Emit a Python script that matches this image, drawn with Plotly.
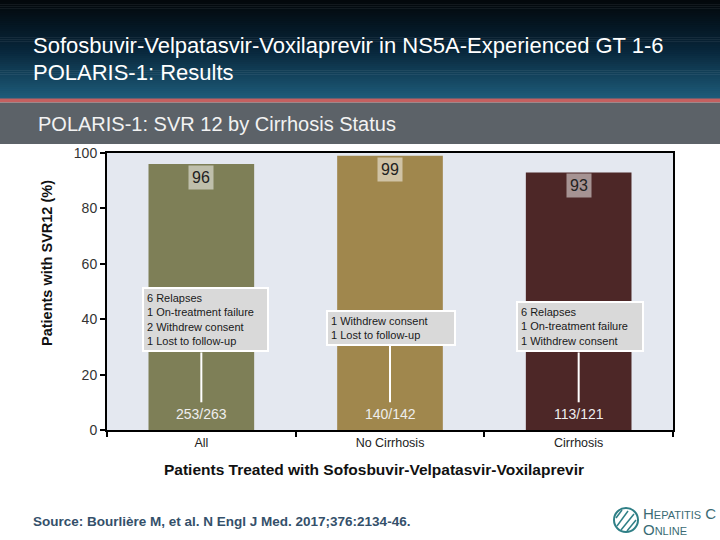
import plotly.graph_objects as go

# ---- data ----
categories = ["All", "No Cirrhosis", "Cirrhosis"]
svr_values = [96, 99, 93]
n_labels = ["253/263", "140/142", "113/121"]
failure_notes = [
    "6 Relapses<br>1 On-treatment failure<br>2 Withdrew consent<br>1 Lost to follow-up",
    "1 Withdrew consent<br>1 Lost to follow-up",
    "6 Relapses<br>1 On-treatment failure<br>1 Withdrew consent",
]
bar_colors = ["#7e7f57", "#a0874d", "#4d2727"]
y_ticks = [0, 20, 40, 60, 80, 100]

title_line1 = "Sofosbuvir-Velpatasvir-Voxilaprevir in NS5A-Experienced GT 1-6"
title_line2 = "POLARIS-1: Results"
subtitle = "POLARIS-1: SVR 12 by Cirrhosis Status"
y_title = "Patients with SVR12 (%)"
x_title = "Patients Treated with Sofosbuvir-Velpatasvir-Voxilaprevir"
source = "Source: Bourlière M, et al. N Engl J Med. 2017;376:2134-46."

# ---- layout geometry (pixels) ----
W, H = 720, 540
L, R, T, B = 107, 673, 153, 430
FONT = "Liberation Sans, Arial, sans-serif"


def px(X):
    return (X - L) / (R - L)


def py(Y):
    return (B - Y) / (B - T)


fig = go.Figure()
fig.add_trace(go.Bar(
    x=categories, y=svr_values,
    marker=dict(color=bar_colors, line=dict(width=0)),
    hoverinfo="skip",
))

shapes = []
# header gradient (decorative)
top_c = (3, 8, 12)
mid_c = (8, 38, 58)
bot_c = (30, 92, 122)
n_strips = 48
hdr_h = 99
for i in range(n_strips):
    y0 = hdr_h * i / n_strips
    y1 = hdr_h * (i + 1) / n_strips + 0.6
    f = i / (n_strips - 1)
    if f < 0.5:
        g = f / 0.5
        c = tuple(int(top_c[k] + (mid_c[k] - top_c[k]) * g) for k in range(3))
    else:
        g = (f - 0.5) / 0.5
        c = tuple(int(mid_c[k] + (bot_c[k] - mid_c[k]) * g) for k in range(3))
    shapes.append(dict(type="rect", xref="paper", yref="paper", layer="below",
                       x0=px(-2), x1=px(W + 2), y0=py(y1), y1=py(y0 - (2 if i == 0 else 0)),
                       fillcolor="rgb(%d,%d,%d)" % c, line=dict(width=0)))
# red line
shapes.append(dict(type="rect", xref="paper", yref="paper", layer="below",
                   x0=px(-2), x1=px(W + 2), y0=py(102.5), y1=py(98.5),
                   fillcolor="#c46060", line=dict(width=0)))
# grey band
shapes.append(dict(type="rect", xref="paper", yref="paper", layer="below",
                   x0=px(-2), x1=px(W + 2), y0=py(144), y1=py(102.5),
                   fillcolor="#5c6268", line=dict(width=0)))

# connector lines inside bars
conn_tops = [28, 30.5, 28]
for cat, yt in zip(categories, conn_tops):
    shapes.append(dict(type="line", xref="x", yref="y", layer="above",
                       x0=cat, x1=cat, y0=10, y1=yt,
                       line=dict(color="white", width=2)))

# logo circle
shapes.append(dict(type="circle", xref="paper", yref="paper", layer="above",
                   x0=px(614), x1=px(638), y0=py(532), y1=py(508),
                   line=dict(color="#2f7f86", width=2), fillcolor="white"))
for (a, b, c_, d) in [(617, 526, 628, 511), (621, 530, 634, 514), (616, 518, 622, 510), (627, 531, 636, 520)]:
    shapes.append(dict(type="line", xref="paper", yref="paper", layer="above",
                       x0=px(a), x1=px(c_), y0=py(b), y1=py(d),
                       line=dict(color="#2f7f86", width=1.5)))

annotations = []
# header texts
annotations.append(dict(xref="paper", yref="paper", x=px(31), y=py(45), xanchor="left", yanchor="middle",
                        text=title_line1, showarrow=False, font=dict(family=FONT, size=22, color="white")))
annotations.append(dict(xref="paper", yref="paper", x=px(31), y=py(72), xanchor="left", yanchor="middle",
                        text=title_line2, showarrow=False, font=dict(family=FONT, size=22, color="white")))
annotations.append(dict(xref="paper", yref="paper", x=px(36), y=py(124), xanchor="left", yanchor="middle",
                        text=subtitle, showarrow=False, font=dict(family=FONT, size=20, color="#f2f2f2")))

# value labels
for cat, v in zip(categories, svr_values):
    annotations.append(dict(xref="x", yref="y", x=cat, y=v, xanchor="center", yanchor="top",
                            text=str(v), showarrow=False, yshift=-1,
                            bgcolor="rgba(255,255,255,0.5)", borderpad=3,
                            font=dict(family=FONT, size=16, color="#222222")))
# failure note boxes
note_bottoms = [28, 30.5, 28]
note_shift = [4, 1, 1]
note_widths = [117, 120, 118]
for cat, txt, yb, xs, wd in zip(categories, failure_notes, note_bottoms, note_shift, note_widths):
    annotations.append(dict(xref="x", yref="y", x=cat, y=yb, xanchor="center", yanchor="bottom",
                            text=txt, showarrow=False, align="left", xshift=xs, width=wd,
                            bgcolor="#d9d9d9", bordercolor="white", borderwidth=2, borderpad=3,
                            font=dict(family=FONT, size=11, color="#1a1a1a")))
# n/N labels
for cat, lab in zip(categories, n_labels):
    annotations.append(dict(xref="x", yref="y", x=cat, y=5.8, xanchor="center", yanchor="middle",
                            text=lab, showarrow=False,
                            font=dict(family=FONT, size=14, color="#eeeeee")))

# axis titles
annotations.append(dict(xref="paper", yref="paper", x=px(374), y=py(469), xanchor="center", yanchor="middle",
                        text="<b>%s</b>" % x_title, showarrow=False,
                        font=dict(family=FONT, size=15.5, color="#111111")))
annotations.append(dict(xref="paper", yref="paper", x=px(47), y=py(263), xanchor="center", yanchor="middle",
                        text="<b>%s</b>" % y_title, showarrow=False, textangle=-90,
                        font=dict(family=FONT, size=14.5, color="#111111")))
# source
annotations.append(dict(xref="paper", yref="paper", x=px(31), y=py(521), xanchor="left", yanchor="middle",
                        text="<b>%s</b>" % source, showarrow=False,
                        font=dict(family=FONT, size=13.5, color="#34506a")))
# logo text
annotations.append(dict(xref="paper", yref="paper", x=px(641), y=py(513), xanchor="left", yanchor="middle",
                        text="H<span style='font-size:11px'>EPATITIS</span> C", showarrow=False,
                        font=dict(family=FONT, size=15, color="#3a6b74")))
annotations.append(dict(xref="paper", yref="paper", x=px(641), y=py(529), xanchor="left", yanchor="middle",
                        text="O<span style='font-size:11px'>NLINE</span>", showarrow=False,
                        font=dict(family=FONT, size=15, color="#3a6b74")))

fig.update_layout(
    width=W, height=H,
    margin=dict(l=L, r=W - R, t=T, b=H - B, pad=0),
    paper_bgcolor="white",
    plot_bgcolor="#e4e8f0",
    showlegend=False,
    bargap=0.44,
    shapes=shapes,
    annotations=annotations,
    font=dict(family=FONT),
    xaxis=dict(
        type="category", showgrid=False, zeroline=False,
        showline=True, linecolor="black", linewidth=2, mirror=True,
        ticks="outside", tickson="boundaries", ticklen=5, tickcolor="black", tickwidth=1.5,
        tickfont=dict(family=FONT, size=12.5, color="#222222"),
    ),
    yaxis=dict(
        range=[0, 100], tickvals=y_ticks, showgrid=False, zeroline=False,
        showline=True, linecolor="black", linewidth=2, mirror=True,
        ticks="outside", ticklen=5, tickcolor="black", tickwidth=1.5,
        tickfont=dict(family=FONT, size=14, color="#333333"),
    ),
)

fig.write_html("out.html", config={"displayModeBar": False},
               post_script="document.body.style.margin='0';document.body.style.overflow='hidden';")
